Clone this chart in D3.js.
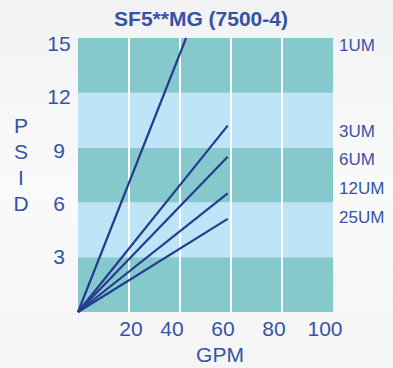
<!DOCTYPE html>
<html>
<head>
<meta charset="utf-8">
<script src="https://cdn.jsdelivr.net/npm/d3@7"></script>
<style>
  body { margin: 0; background: #f7f7f7; }
  svg { display: block; font-family: "Liberation Sans", Arial, sans-serif; }
</style>
</head>
<body>
<div id="chart"></div>
<script>
// chart data
const xTicks = [20, 40, 60, 80, 100];
const yTicks = [3, 6, 9, 12, 15];
const bands = [[0, 3], [3, 6], [6, 9], [9, 12], [12, 15]];
const seriesNames = ["1UM", "3UM", "6UM", "12UM", "25UM"];
const seriesGpm = [[0, 42.4], [0, 58.7], [0, 58.7], [0, 58.7], [0, 58.7]];
const seriesPsid = [[0, 15], [0, 10.2], [0, 8.5], [0, 6.5], [0, 5.1]];
const labelPsid = [14.6, 9.9, 8.4, 6.8, 5.2];

const width = 393, height = 368;
const plotLeft = 78, plotRight = 333, plotTop = 38, plotBottom = 312;
const textColor = "#3553a6";

const svg = d3.select("#chart").append("svg")
    .attr("width", width)
    .attr("height", height);

const grad = svg.append("defs").append("linearGradient")
    .attr("id", "bg").attr("x1", 0).attr("y1", 0).attr("x2", 0).attr("y2", 1);
grad.append("stop").attr("offset", "0%").attr("stop-color", "#f2f2f2");
grad.append("stop").attr("offset", "50%").attr("stop-color", "#fafafa");
grad.append("stop").attr("offset", "100%").attr("stop-color", "#f5f5f5");
svg.append("rect").attr("width", width).attr("height", height).attr("fill", "url(#bg)");

const x = d3.scaleLinear().domain([0, 100]).range([plotLeft, plotRight]);
const y = d3.scaleLinear().domain([0, 15]).range([plotBottom, plotTop]);

// alternating bands
svg.selectAll("rect.band").data(bands).enter()
    .append("rect")
    .attr("class", "band")
    .attr("x", x(0))
    .attr("width", x(100) - x(0))
    .attr("y", d => y(d[1]))
    .attr("height", d => y(d[0]) - y(d[1]))
    .attr("fill", (d, i) => i % 2 === 0 ? "#86c9cc" : "#bde4f7");

// vertical white grid
svg.selectAll("line.grid").data(xTicks.slice(0, -1)).enter()
    .append("line")
    .attr("x1", d => x(d)).attr("x2", d => x(d))
    .attr("y1", y(15)).attr("y2", y(0))
    .attr("stroke", "#ffffff")
    .attr("stroke-width", 2);

// title
svg.append("text")
    .attr("x", 201).attr("y", 26)
    .attr("text-anchor", "middle")
    .attr("font-size", 21)
    .attr("font-weight", "bold")
    .attr("fill", textColor)
    .text("SF5**MG (7500-4)");

// y tick labels
svg.selectAll("text.ytick").data(yTicks).enter()
    .append("text")
    .attr("x", 59)
    .attr("y", d => y(d) + 7 + (d - 3) * 0.5)
    .attr("text-anchor", "middle")
    .attr("font-size", 21)
    .attr("fill", textColor)
    .text(d => d);

// x tick labels (printed slightly left of their grid lines)
svg.selectAll("text.xtick").data(xTicks).enter()
    .append("text")
    .attr("x", d => x(d) + (d === 20 ? 2 : -8))
    .attr("y", 336)
    .attr("text-anchor", "middle")
    .attr("font-size", 21)
    .attr("fill", textColor)
    .text(d => d);

svg.append("text")
    .attr("x", 220).attr("y", 362)
    .attr("text-anchor", "middle")
    .attr("font-size", 21)
    .attr("fill", textColor)
    .text("GPM");

// vertical PSID label
svg.selectAll("text.ylab").data("PSID".split("")).enter()
    .append("text")
    .attr("x", 21)
    .attr("y", (d, i) => 133 + i * 26)
    .attr("text-anchor", "middle")
    .attr("font-size", 21)
    .attr("fill", textColor)
    .text(d => d);

// lines
const line = d3.line().x(d => x(d[0])).y(d => y(d[1]));
seriesNames.forEach((name, i) => {
    const pts = seriesGpm[i].map((g, j) => [g, seriesPsid[i][j]]);
    svg.append("path")
        .datum(pts)
        .attr("d", line)
        .attr("fill", "none")
        .attr("stroke", "#263b8e")
        .attr("stroke-width", 2.2);
});

// series labels
svg.selectAll("text.slab").data(seriesNames).enter()
    .append("text")
    .attr("x", 339)
    .attr("y", (d, i) => y(labelPsid[i]) + 6)
    .attr("font-size", 17)
    .attr("fill", textColor)
    .text(d => d);
</script>
</body>
</html>
